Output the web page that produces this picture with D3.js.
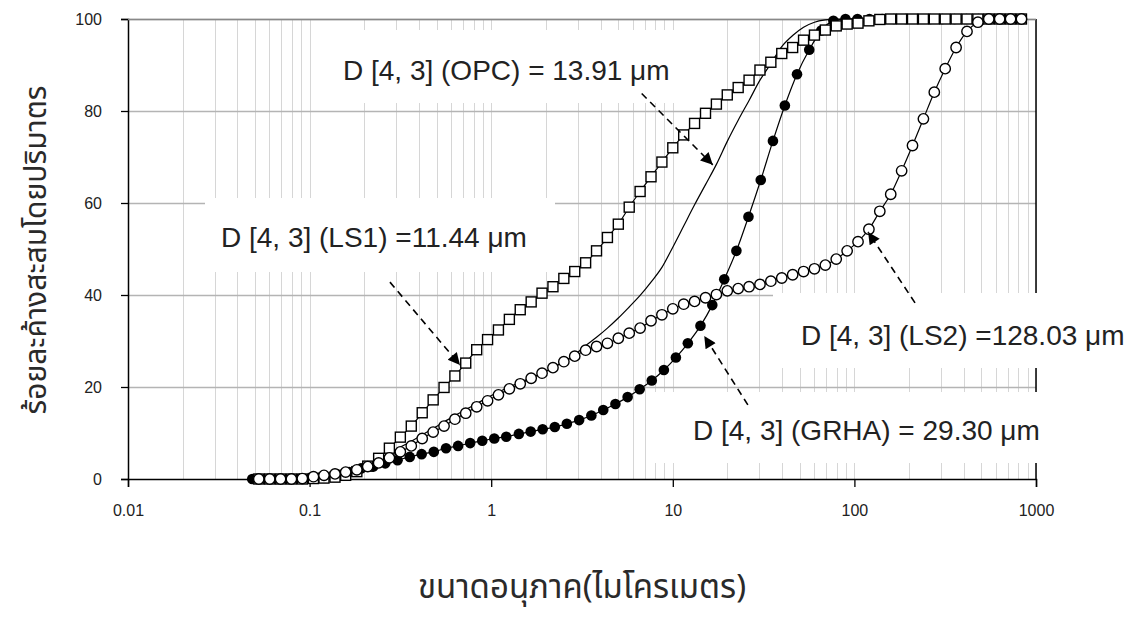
<!DOCTYPE html>
<html>
<head>
<meta charset="utf-8">
<script src="https://cdn.jsdelivr.net/npm/d3@7"></script>
<style>
  body { margin: 0; background: #fff; }
  svg { display: block; }
  .tick text { font-family: "Liberation Sans", Arial, sans-serif; }
</style>
</head>
<body>
<svg id="chart" width="1139" height="617"></svg>
<script>
// size classes (um), common grid of OPC, LS1, LS2
var sizes = [0.0525, 0.0603, 0.0692, 0.0794, 0.0912, 0.105, 0.120, 0.138, 0.158, 0.182,
  0.209, 0.240, 0.275, 0.316, 0.363, 0.417, 0.479, 0.550, 0.631, 0.724,
  0.832, 0.955, 1.096, 1.259, 1.445, 1.660, 1.905, 2.188, 2.512, 2.884,
  3.311, 3.802, 4.365, 5.012, 5.754, 6.607, 7.586, 8.710, 10.00, 11.48,
  13.18, 15.14, 17.38, 19.95, 22.91, 26.30, 30.20, 34.67, 39.81, 45.71,
  52.48, 60.26, 69.18, 79.43, 91.20, 104.7, 120.2, 138.0, 158.5, 182.0,
  208.9, 239.9, 275.4, 316.2, 363.1, 416.9, 478.6, 549.5, 631.0, 724.4, 831.8];

var opc = [0, 0, 0, 0, 0, 0.2, 0.5, 1.0, 1.6, 2.4,
  3.3, 4.4, 5.6, 6.9, 8.2, 9.6, 11.0, 12.4, 13.8, 15.1,
  16.4, 17.7, 18.9, 20.0, 21.0, 22.0, 23.0, 24.2, 25.6, 27.0,
  29.0, 30.8, 32.8, 35.0, 37.4, 39.9, 42.8, 46.0, 50.4, 55.0,
  59.6, 64.0, 68.4, 73.4, 78.0, 82.3, 86.7, 90.3, 94.0, 96.4,
  98.2, 99.3, 99.8, 100, 100, 100, 100, 100, 100, 100,
  100, 100, 100, 100, 100, 100, 100, 100, 100, 100, 100];

var ls1 = [0, 0, 0, 0, 0, 0.1, 0.2, 0.4, 0.8, 1.6,
  2.8, 4.5, 6.7, 9.1, 11.5, 14.4, 17.2, 19.9, 22.4, 25.2,
  28.1, 30.3, 32.4, 34.7, 36.8, 38.5, 40.4, 41.8, 43.6, 45.1,
  47.0, 49.6, 52.5, 55.4, 59.1, 62.5, 65.7, 68.9, 72.0, 74.8,
  77.3, 79.5, 81.5, 83.5, 85.1, 86.7, 88.9, 90.6, 92.5, 93.8,
  95.4, 96.5, 97.6, 98.5, 98.9, 99.1, 99.6, 99.9, 100, 100,
  100, 100, 100, 100, 100, 100, 100, 100, 100, 100, 100];

var ls2 = [0, 0, 0, 0, 0.1, 0.5, 0.8, 1.1, 1.5, 2.0,
  2.7, 3.5, 4.6, 5.9, 7.2, 8.8, 10.2, 11.5, 13.0, 14.3,
  15.7, 17.0, 18.3, 19.6, 20.7, 21.9, 23.0, 24.2, 25.5, 26.7,
  28.0, 28.8, 29.5, 30.6, 31.7, 32.8, 34.4, 35.7, 37.0, 38.0,
  38.6, 39.4, 40.1, 40.9, 41.4, 41.8, 42.3, 43.0, 43.7, 44.4,
  45.1, 45.7, 46.5, 47.8, 49.6, 51.6, 54.3, 58.2, 61.9, 67.0,
  72.5, 78.3, 84.1, 89.2, 93.8, 97.3, 99.3, 100, 100, 100, 100];

// GRHA was measured on its own grid
var grhaSizes = [0.0483, 0.0564, 0.0657, 0.0766, 0.0893, 0.104, 0.121, 0.142, 0.165, 0.192,
  0.224, 0.261, 0.305, 0.356, 0.414, 0.483, 0.564, 0.657, 0.766, 0.893,
  1.04, 1.21, 1.42, 1.65, 1.92, 2.24, 2.61, 3.05, 3.56, 4.14,
  4.83, 5.64, 6.57, 7.66, 8.93, 10.4, 12.1, 14.2, 16.5, 19.2,
  22.4, 26.1, 30.5, 35.6, 41.4, 48.3, 56.4, 65.7, 76.6, 89.3,
  104, 121, 142, 165, 192, 224, 261, 305, 356, 414, 483, 564, 657, 766];

var grha = [0, 0, 0, 0, 0.1, 0.3, 0.6, 1.0, 1.5, 2.3,
  2.7, 3.4, 4.1, 4.8, 5.4, 5.9, 6.7, 7.2, 7.8, 8.3,
  8.8, 9.2, 9.8, 10.3, 10.8, 11.3, 12.0, 12.8, 13.8, 15.0,
  16.3, 17.8, 19.5, 21.4, 23.7, 26.4, 29.5, 33.3, 37.8, 43.4,
  49.6, 57.0, 65.0, 73.5, 81.2, 88.0, 93.3, 97.5, 99.6, 100,
  100, 100, 100, 100, 100, 100, 100, 100, 100, 100, 100, 100, 100, 100];

var xTickValues = [0.01, 0.1, 1, 10, 100, 1000];
var xTickLabels = ["0.01", "0.1", "1", "10", "100", "1000"];
var yTickValues = [0, 20, 40, 60, 80, 100];

var xTitle = "ขนาดอนุภาค(ไมโครเมตร)";
var yTitle = "ร้อยละค้างสะสมโดยปริมาตร";

// annotation text and arrows (arrow ends in data units)
var noteTexts = ["D [4, 3] (OPC) = 13.91 \u03bcm", "D [4, 3] (LS1) =11.44 \u03bcm",
  "D [4, 3] (LS2) =128.03 \u03bcm", "D [4, 3] (GRHA) = 29.30 \u03bcm"];
var arrowFrom = [[6.74, 83.8], [0.277, 42.8], [215.7, 38.3], [25.9, 16.1]];
var arrowTo = [[16.6, 68.3], [0.673, 24.8], [118.9, 53.7], [14.9, 31.1]];

var svg = d3.select("#chart");
var plot = {left: 128, right: 1036, top: 19, bottom: 479};

var x = d3.scaleLog().domain([0.01, 1000]).range([plot.left, plot.right]);
var y = d3.scaleLinear().domain([0, 100]).range([plot.bottom, plot.top]);

// note boxes, pixel layout
var noteBoxes = [
  {x: 330, y: 30, w: 352, h: 73, tx: 343, ty: 80},
  {x: 205, y: 198, w: 350, h: 74, tx: 221, ty: 247},
  {x: 773, y: 293, w: 366, h: 75, tx: 801, ty: 345},
  {x: 655, y: 392, w: 400, h: 71, tx: 693, ty: 440}
];

function translate(a, b) { return "translate(" + a + "," + b + ")"; }

// grid
var grid = svg.append("g").attr("class", "grid");
grid.selectAll(".vgrid")
  .data(x.ticks().filter(function(d){ return d > 0.01; }))
  .enter().append("line")
    .attr("x1", function(d){ return Math.round(x(d)) + 0.5; })
    .attr("x2", function(d){ return Math.round(x(d)) + 0.5; })
    .attr("y1", plot.top)
    .attr("y2", plot.bottom)
    .attr("stroke", "#d6d6d6")
    .attr("stroke-width", 1);

grid.selectAll(".hgrid")
  .data(yTickValues.filter(function(d){ return d > 0; }))
  .enter().append("line")
    .attr("x1", plot.left)
    .attr("x2", plot.right)
    .attr("y1", function(d){ return Math.round(y(d)) + 0.5; })
    .attr("y2", function(d){ return Math.round(y(d)) + 0.5; })
    .attr("stroke", "#b4b4b4")
    .attr("stroke-width", 1.3);

// axes
var xAxis = svg.append("g")
  .attr("transform", translate(0, plot.bottom))
  .call(d3.axisBottom(x).tickValues(xTickValues).tickSize(8).tickPadding(18)
    .tickFormat(function(d, i){ return xTickLabels[i]; }));
xAxis.select(".domain").attr("stroke", "#000").attr("stroke-width", 1.5);
xAxis.selectAll(".tick line").attr("stroke", "#000").attr("stroke-width", 1.3);
xAxis.selectAll(".tick text").attr("font-size", 16).attr("fill", "#222");

var yAxis = svg.append("g")
  .attr("transform", translate(plot.left, 0))
  .call(d3.axisLeft(y).tickValues(yTickValues).tickSize(7).tickPadding(19));
yAxis.select(".domain").attr("stroke", "#000").attr("stroke-width", 1.5);
yAxis.selectAll(".tick line").attr("stroke", "#000").attr("stroke-width", 1.3);
yAxis.selectAll(".tick text").attr("font-size", 16).attr("fill", "#222");

// right border
svg.append("line")
  .attr("x1", plot.right).attr("x2", plot.right)
  .attr("y1", plot.top).attr("y2", plot.bottom)
  .attr("stroke", "#000").attr("stroke-width", 1.5);
svg.append("line")
  .attr("x1", plot.left).attr("x2", plot.right)
  .attr("y1", plot.top + 0.5).attr("y2", plot.top + 0.5)
  .attr("stroke", "#888").attr("stroke-width", 1.3);

// white note boxes
svg.append("g").selectAll("rect")
  .data(noteBoxes)
  .enter().append("rect")
    .attr("x", function(d){ return d.x; })
    .attr("y", function(d){ return d.y; })
    .attr("width", function(d){ return d.w; })
    .attr("height", function(d){ return d.h; })
    .attr("fill", "#fff");

// series
var lineGen = d3.line()
  .x(function(d){ return x(d[0]); })
  .y(function(d){ return y(d[1]); })
  .curve(d3.curveMonotoneX);

function pairs(xs, ys) { return xs.map(function(v, i){ return [v, ys[i]]; }); }

var series = svg.append("g").attr("class", "series");

series.append("path")
  .datum(pairs(sizes, opc))
  .attr("d", lineGen)
  .attr("fill", "none")
  .attr("stroke", "#000")
  .attr("stroke-width", 1.2);

// GRHA filled circles
var grhaData = pairs(grhaSizes, grha);
series.append("path")
  .datum(grhaData)
  .attr("d", lineGen)
  .attr("fill", "none").attr("stroke", "#000").attr("stroke-width", 1.2);
series.append("g").selectAll("circle")
  .data(grhaData)
  .enter().append("circle")
    .attr("cx", function(d){ return x(d[0]); })
    .attr("cy", function(d){ return y(d[1]); })
    .attr("r", 5.3)
    .attr("fill", "#000");

// LS1 open squares
var ls1Data = pairs(sizes, ls1);
series.append("path")
  .datum(ls1Data)
  .attr("d", lineGen)
  .attr("fill", "none").attr("stroke", "#000").attr("stroke-width", 1.2);
series.append("g").selectAll("rect")
  .data(ls1Data)
  .enter().append("rect")
    .attr("x", function(d){ return x(d[0]) - 5; })
    .attr("y", function(d){ return y(d[1]) - 5; })
    .attr("width", 10)
    .attr("height", 10)
    .attr("fill", "#fff")
    .attr("stroke", "#000")
    .attr("stroke-width", 1.4);

// LS2 open circles
var ls2Data = pairs(sizes, ls2);
series.append("path")
  .datum(ls2Data)
  .attr("d", lineGen)
  .attr("fill", "none").attr("stroke", "#000").attr("stroke-width", 1.2);
series.append("g").selectAll("circle")
  .data(ls2Data)
  .enter().append("circle")
    .attr("cx", function(d){ return x(d[0]); })
    .attr("cy", function(d){ return y(d[1]); })
    .attr("r", 5.2)
    .attr("fill", "#fff")
    .attr("stroke", "#000")
    .attr("stroke-width", 1.4);

// arrows
svg.append("defs").append("marker")
  .attr("id", "head")
  .attr("viewBox", "0 0 10 10")
  .attr("refX", 10).attr("refY", 5)
  .attr("markerWidth", 15).attr("markerHeight", 12)
  .attr("markerUnits", "userSpaceOnUse")
  .attr("orient", "auto")
  .append("path")
    .attr("d", "M0,0 L10,5 L0,10 Z")
    .attr("fill", "#000");

svg.append("g").selectAll("line")
  .data(arrowFrom)
  .enter().append("line")
    .attr("x1", function(d){ return x(d[0]); })
    .attr("y1", function(d){ return y(d[1]); })
    .attr("x2", function(d, i){ return x(arrowTo[i][0]); })
    .attr("y2", function(d, i){ return y(arrowTo[i][1]); })
    .attr("stroke", "#000")
    .attr("stroke-width", 1.6)
    .attr("stroke-dasharray", "7,5")
    .attr("marker-end", "url(#head)");

// note text
svg.append("g").selectAll("text")
  .data(noteBoxes)
  .enter().append("text")
    .attr("x", function(d){ return d.tx; })
    .attr("y", function(d){ return d.ty; })
    .attr("font-family", "'Liberation Sans', Arial, sans-serif")
    .attr("font-size", 28)
    .attr("fill", "#222")
    .text(function(d, i){ return noteTexts[i]; });

// axis titles
svg.append("text")
  .attr("x", 582)
  .attr("y", 598)
  .attr("text-anchor", "middle")
  .attr("font-family", "'Noto Sans Thai', 'Noto Sans', 'DejaVu Sans', sans-serif")
  .attr("font-size", 33)
  .attr("fill", "#2a2a2a")
  .text(xTitle);

svg.append("text")
  .attr("transform", translate(46, 250) + " rotate(-90)")
  .attr("text-anchor", "middle")
  .attr("font-family", "'Noto Sans Thai', 'Noto Sans', 'DejaVu Sans', sans-serif")
  .attr("font-size", 30)
  .attr("fill", "#2a2a2a")
  .text(yTitle);
</script>
</body>
</html>
